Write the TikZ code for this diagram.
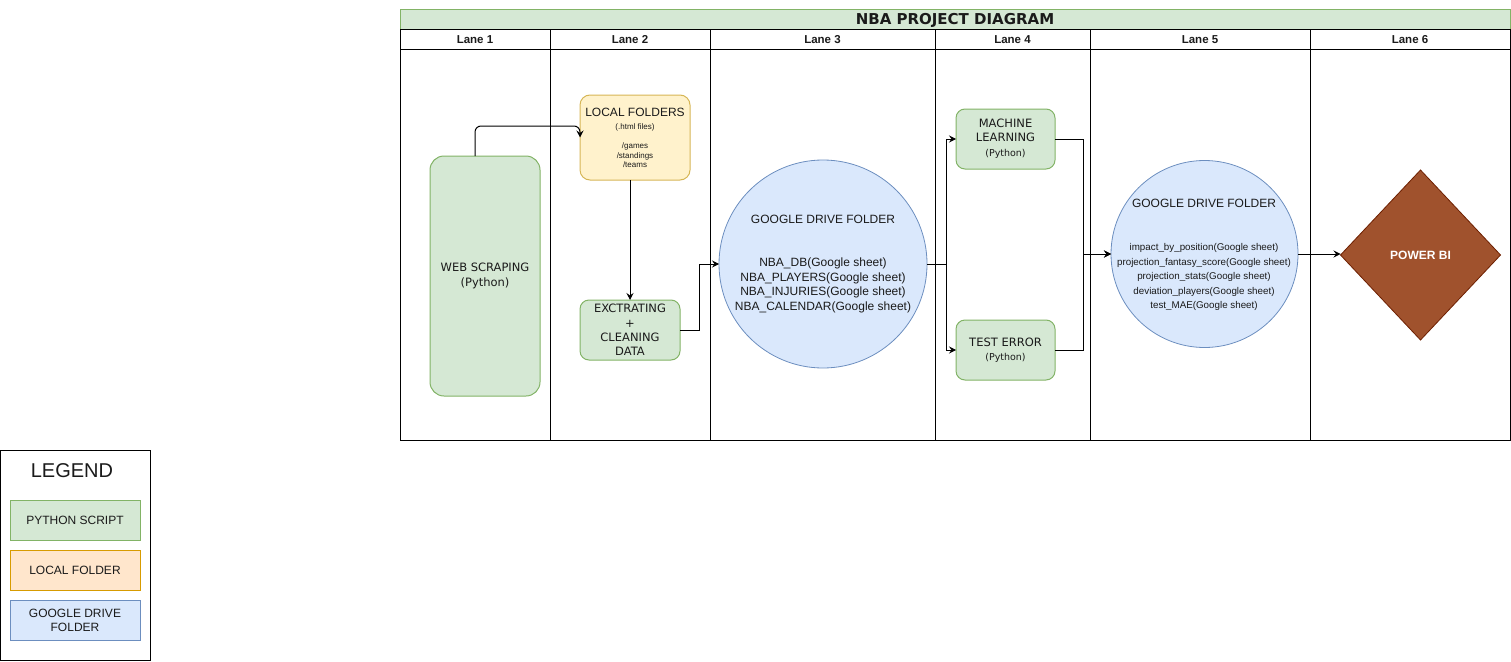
\documentclass[tikz,border=0pt]{standalone}
\usepackage{fontspec}
\setmainfont{Liberation Sans}
\newfontfamily\vfont{DejaVu Sans}
\usetikzlibrary{arrows.meta,shapes.geometric,calc}
\definecolor{gfill}{HTML}{D5E8D4}
\definecolor{gline}{HTML}{82B366}
\definecolor{yfill}{HTML}{FFF2CC}
\definecolor{yline}{HTML}{D6B656}
\definecolor{ofill}{HTML}{FFE6CC}
\definecolor{oline}{HTML}{D79B00}
\definecolor{bfill}{HTML}{DAE8FC}
\definecolor{bline}{HTML}{6C8EBF}
\definecolor{sfill}{HTML}{A0522D}
\definecolor{sline}{HTML}{6D1F00}
\definecolor{txt}{HTML}{1A1A1A}
\tikzset{
  every node/.style={inner sep=0pt, outer sep=0pt, text=txt},
  lanebox/.style={draw=black, line width=1pt},
  pybox/.style={draw=gline, fill=gfill, line width=1pt, rounded corners=9pt, align=center},
  folderbox/.style={draw=yline, fill=yfill, line width=1pt, rounded corners=10pt, align=center},
  gcircle/.style={draw=bline, fill=bfill, line width=0.8pt, circle, align=center},
  legbox/.style={line width=1pt, minimum width=130pt, minimum height=40pt, align=center, font=\fontsize{12}{14}\selectfont},
  arr/.style={draw=black, line width=1pt, -{Stealth[length=7pt,width=7pt,inset=2.5pt]}},
  lanehead/.style={font=\bfseries\fontsize{11.5}{13}\selectfont},
}
\begin{document}
\begin{tikzpicture}[x=1pt,y=-1pt]
\useasboundingbox (0,0) rectangle (1511,661);
% swimlanes
\draw[draw=gline, fill=gfill, line width=1pt] (400,10) rectangle (1510,30);
\node[font=\vfont\bfseries\fontsize{15}{17}\selectfont] (title) at (955,20.5) {NBA PROJECT DIAGRAM};
\draw[lanebox] (400,30) rectangle (1510,440);
\draw[lanebox] (400,50) -- (1510,50);
\foreach \xx in {550,710,935,1090,1310} \draw[lanebox] (\xx,30) -- (\xx,440);
\node[lanehead] (l1) at (475,40) {Lane 1};
\node[lanehead] (l2) at (630,40) {Lane 2};
\node[lanehead] (l3) at (822.5,40) {Lane 3};
\node[lanehead] (l4) at (1012.5,40) {Lane 4};
\node[lanehead] (l5) at (1200,40) {Lane 5};
\node[lanehead] (l6) at (1410,40) {Lane 6};
% nodes
\node[pybox, minimum width=110pt, minimum height=240pt, rounded corners=14pt, font=\vfont\fontsize{11.5}{15}\selectfont] (ws) at (485,276) {WEB SCRAPING\\(Python)};
\node[folderbox, minimum width=110pt, minimum height=85pt, font=\fontsize{8}{9.5}\selectfont] (lf) at (635,137.5) {};
\node[align=center, font=\fontsize{8}{9.5}\selectfont] (lft) at (635,138)
  {{\fontsize{12}{13}\selectfont LOCAL FOLDERS}\\[3.5pt]
   (.html files)\\[9.5pt]
   /games\\
   /standings\\
   /teams};
\node[pybox, minimum width=100pt, minimum height=60pt, font=\vfont\fontsize{11.5}{14.2}\selectfont] (ex) at (630,330) {EXCTRATING\\+\\CLEANING\\DATA};
\node[gcircle, minimum size=208pt, font=\fontsize{12}{14.5}\selectfont] (c3) at (823,264)
  {GOOGLE DRIVE FOLDER\\[29pt]NBA\_DB(Google sheet)\\NBA\_PLAYERS(Google sheet)\\NBA\_INJURIES(Google sheet)\\NBA\_CALENDAR(Google sheet)};
\node[pybox, minimum width=99pt, minimum height=60pt, font=\vfont\fontsize{11.5}{14}\selectfont] (ml) at (1005.5,139) {MACHINE\\LEARNING\\[1pt]{\fontsize{9.5}{11}\selectfont (Python)}};
\node[pybox, minimum width=99pt, minimum height=60pt, font=\vfont\fontsize{11.5}{14}\selectfont] (te) at (1005.5,350) {TEST ERROR\\[0pt]{\fontsize{9.5}{11}\selectfont (Python)}};
\node[gcircle, minimum size=187pt] (c5) at (1204.5,254) {};
\node[align=center, font=\fontsize{9.8}{14.5}\selectfont] (c5t) at (1204,255)
  {{\fontsize{12}{14.5}\selectfont GOOGLE DRIVE FOLDER}\\[29pt]impact\_by\_position(Google sheet)\\projection\_fantasy\_score(Google sheet)\\projection\_stats(Google sheet)\\deviation\_players(Google sheet)\\test\_MAE(Google sheet)};
\node[diamond, shape aspect=0.94, draw=sline, fill=sfill, line width=0.8pt, minimum width=160pt, minimum height=170pt, text=white, font=\bfseries\fontsize{12}{14}\selectfont] (pb) at (1420.5,255) {POWER BI};
% connectors
\draw[arr, rounded corners=6pt] ([xshift=-10pt]ws.north) |- ([yshift=11.5pt]lf.west) -- (lf.west);
\draw[arr] (ex.north |- lf.south) -- (ex.north);
\draw[arr] (ex.east) -- ++(19,0) |- (c3.west);
\draw[arr] (c3.east) -- ++(19,0) |- (ml.west);
\draw[arr] (c3.east) -- ++(19,0) |- (te.west);
\draw[arr] (ml.east) -- ++(28,0) |- (c5.west);
\draw[arr] (te.east) -- ++(28,0) |- (c5.west);
\draw[arr] (c5.east) -- (c5.east -| pb.west);
% legend
\draw[line width=1pt] (0,450) rectangle (150,660);
\node[font=\fontsize{20}{22}\selectfont] (leg) at (72,471) {LEGEND};
\node[legbox, draw=gline, fill=gfill] (lpy) at (75,520) {PYTHON SCRIPT};
\node[legbox, draw=oline, fill=ofill] (llf) at (75,570) {LOCAL FOLDER};
\node[legbox, draw=bline, fill=bfill] (lgd) at (75,620) {GOOGLE DRIVE\\FOLDER};
\end{tikzpicture}
\end{document}
